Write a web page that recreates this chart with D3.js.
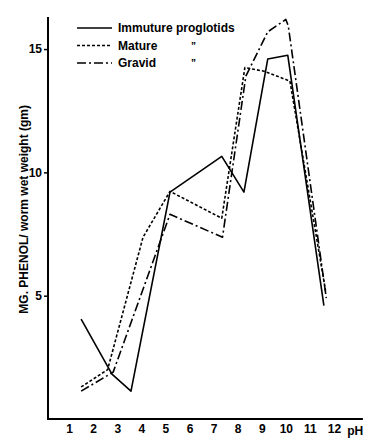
<!DOCTYPE html>
<html>
<head>
<meta charset="utf-8">
<script src="https://cdn.jsdelivr.net/npm/d3@7"></script>
<style>
  body { margin: 0; background: #fff; }
  svg { display: block; }
</style>
</head>
<body>
<svg></svg>
<script>
// Chart size
var w = 378;
var h = 446;

// pH values and phenol amounts
var phImmature = [1.5, 2.78, 3.57, 5.19, 7.34, 8.26, 9.25, 10.08, 11.58];
var valImmature = [4.05, 1.82, 1.13, 9.2, 10.65, 9.2, 14.6, 14.75, 4.6];

var phMature = [1.5, 2.6, 4.07, 5.19, 7.34, 8.3, 9.1, 10.17, 11.65];
var valMature = [1.3, 2.0, 7.37, 9.23, 8.14, 14.25, 14.1, 13.7, 5.2];

var phGravid = [1.5, 2.83, 5.19, 7.37, 8.34, 9.25, 10.0, 10.1, 11.68];
var valGravid = [1.13, 1.9, 8.3, 7.37, 13.9, 15.7, 16.2, 15.95, 4.9];

var xTicks = [1, 2, 3, 4, 5, 6, 7, 8, 9, 10, 11, 12];
var yTicks = [5, 10, 15];

var legendNames = ["Immuture proglotids", "Mature", "Gravid"];
var legendDitto = ["", "\u201d", "\u201d"];

// Scales
var xScale = d3.scaleLinear().domain([0, 12]).range([45, 334]);
var yScale = d3.scaleLinear().domain([0, 16.3]).range([419, 17]);

var svg = d3.select("svg")
    .attr("width", w)
    .attr("height", h)
    .style("font-family", "'Liberation Sans', Arial, sans-serif");

// Axes lines
var axisX0 = 48;
svg.append("line")
    .attr("x1", axisX0).attr("x2", axisX0)
    .attr("y1", yScale(0)).attr("y2", yScale(16.3))
    .attr("stroke", "#000").attr("stroke-width", 2);

svg.append("line")
    .attr("x1", axisX0 - 1).attr("x2", xScale(13.2))
    .attr("y1", yScale(0)).attr("y2", yScale(0))
    .attr("stroke", "#000").attr("stroke-width", 2);

// Y ticks
var yAxis = d3.axisLeft(yScale).tickValues(yTicks).tickSize(4).tickPadding(2);
var gy = svg.append("g")
    .attr("transform", "translate(" + axisX0 + ",0)")
    .call(yAxis);
gy.select(".domain").remove();
gy.selectAll("line").attr("stroke-width", 1.5);
gy.selectAll("text")
    .attr("font-size", "12px")
    .attr("font-weight", "bold")
    .attr("font-family", "'Liberation Sans', Arial, sans-serif");

// X ticks
var xAxis = d3.axisBottom(xScale).tickValues(xTicks).tickSize(0).tickPadding(5);
var gx = svg.append("g")
    .attr("transform", "translate(0," + yScale(0) + ")")
    .call(xAxis);
gx.select(".domain").remove();
gx.selectAll("text")
    .attr("font-size", "12px")
    .attr("font-weight", "bold")
    .attr("font-family", "'Liberation Sans', Arial, sans-serif");

svg.append("text")
    .attr("x", xScale(12.55))
    .attr("y", yScale(0) + 16)
    .attr("font-size", "12px")
    .attr("font-weight", "bold")
    .text("pH");

// Y axis label
svg.append("text")
    .attr("transform", "translate(28," + yScale(8.5) + ") rotate(-90)")
    .attr("text-anchor", "middle")
    .attr("font-size", "12px")
    .attr("font-weight", "bold")
    .text("MG. PHENOL/ worm wet weight (gm)");

// Lines
var line = d3.line()
    .x(function (d) { return xScale(d[0]); })
    .y(function (d) { return yScale(d[1]); });

var series = [
    { ph: phImmature, val: valImmature, dash: null },
    { ph: phMature, val: valMature, dash: "3,2" },
    { ph: phGravid, val: valGravid, dash: "9,3,2,3" }
];

series.forEach(function (s) {
    var pts = d3.zip(s.ph, s.val);
    svg.append("path")
        .datum(pts)
        .attr("fill", "none")
        .attr("stroke", "#000")
        .attr("stroke-width", 1.6)
        .attr("stroke-linejoin", "round")
        .attr("stroke-dasharray", s.dash)
        .attr("d", line);
});

// Legend
var legend = svg.append("g").attr("transform", "translate(77,28)");
series.forEach(function (s, i) {
    legend.append("line")
        .attr("x1", 0).attr("x2", 35)
        .attr("y1", i * 17.5).attr("y2", i * 17.5)
        .attr("stroke", "#000")
        .attr("stroke-width", 1.6)
        .attr("stroke-dasharray", s.dash);
    legend.append("text")
        .attr("x", 41)
        .attr("y", i * 17.5 + 4)
        .attr("font-size", "12px")
        .attr("font-weight", "bold")
        .text(legendNames[i]);
    legend.append("text")
        .attr("x", 114)
        .attr("y", i * 17.5 + 4)
        .attr("font-size", "10px")
        .attr("font-weight", "bold")
        .attr("fill", "#000")
        .text(legendDitto[i]);
});
</script>
</body>
</html>
